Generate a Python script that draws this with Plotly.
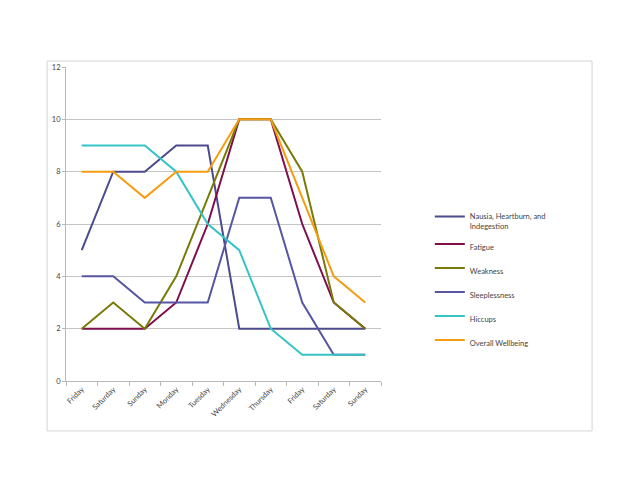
import plotly.graph_objects as go

# ── data ──────────────────────────────────────────────────────────────
days = ["Friday", "Saturday", "Sunday", "Monday", "Tuesday",
        "Wednesday", "Thursday", "Friday", "Saturday", "Sunday"]

nausia        = [5, 8, 8, 9, 9, 2, 2, 2, 2, 2]
fatigue       = [2, 2, 2, 3, 6, 10, 10, 6, 3, 2]
weakness      = [2, 3, 2, 4, 7, 10, 10, 8, 3, 2]
sleeplessness = [4, 4, 3, 3, 3, 7, 7, 3, 1, 1]
hiccups       = [9, 9, 9, 8, 6, 5, 2, 1, 1, 1]
wellbeing     = [8, 8, 7, 8, 8, 10, 10, 7, 4, 3]

series = [
    ("Nausia, Heartburn, and<br>Indegestion", nausia, "#4b4b8e"),
    ("Fatigue", fatigue, "#7d0f4c"),
    ("Weakness", weakness, "#7a7a08"),
    ("Sleeplessness", sleeplessness, "#5656a3"),
    ("Hiccups", hiccups, "#35c3c6"),
    ("Overall Wellbeing", wellbeing, "#f59d12"),
]

FONT = "Lato, 'Open Sans', Arial, sans-serif"
GRID = "#c4c4c4"
AXIS = "#b8b8b8"
TXT = "#444444"

x_idx = list(range(len(days)))

fig = go.Figure()
for i, (name, vals, color) in enumerate(series):
    fig.add_trace(go.Scatter(
        x=x_idx, y=vals, name=name, mode="lines",
        line=dict(color=color, width=2),
        legendgroup=f"g{i}",
    ))

# light border round the whole chart area (Excel style)
fig.add_shape(type="rect", xref="paper", yref="paper",
              x0=-0.060, x1=1.670, y0=-0.159, y1=1.019,
              line=dict(color="#d4d4d4", width=1))

# page body has an 8px margin, so the plot is nudged up/left by 8px
fig.update_layout(
    width=640, height=494,
    margin=dict(l=58, r=267, t=59, b=121),
    paper_bgcolor="white", plot_bgcolor="white",
    font=dict(family=FONT, size=8, color=TXT),
    showlegend=True,
    legend=dict(
        x=1.155, y=0.56, xanchor="left", yanchor="top",
        font=dict(size=7.5, color=TXT),
        itemwidth=30, tracegroupgap=5, valign="top",
        bgcolor="rgba(0,0,0,0)",
    ),
)

fig.update_xaxes(
    range=[-0.5, len(days) - 0.5],
    tickvals=x_idx, ticktext=days, tickangle=-45,
    ticks="", showgrid=False, zeroline=False,
    showline=True, linecolor=AXIS, linewidth=1,
    tickfont=dict(size=7.5, color=TXT),
    minor=dict(tickvals=[v - 0.5 for v in range(len(days) + 1)],
               ticks="outside", ticklen=4, tickcolor=AXIS,
               showgrid=False),
)

fig.update_yaxes(
    range=[0, 12], dtick=2, tick0=0,
    showgrid=True, gridcolor=GRID, gridwidth=1, zeroline=False,
    showline=True, linecolor=AXIS, linewidth=1,
    ticks="outside", ticklen=3, tickcolor=AXIS,
    tickfont=dict(size=7.5, color=TXT),
)

fig.write_html("out.html")
